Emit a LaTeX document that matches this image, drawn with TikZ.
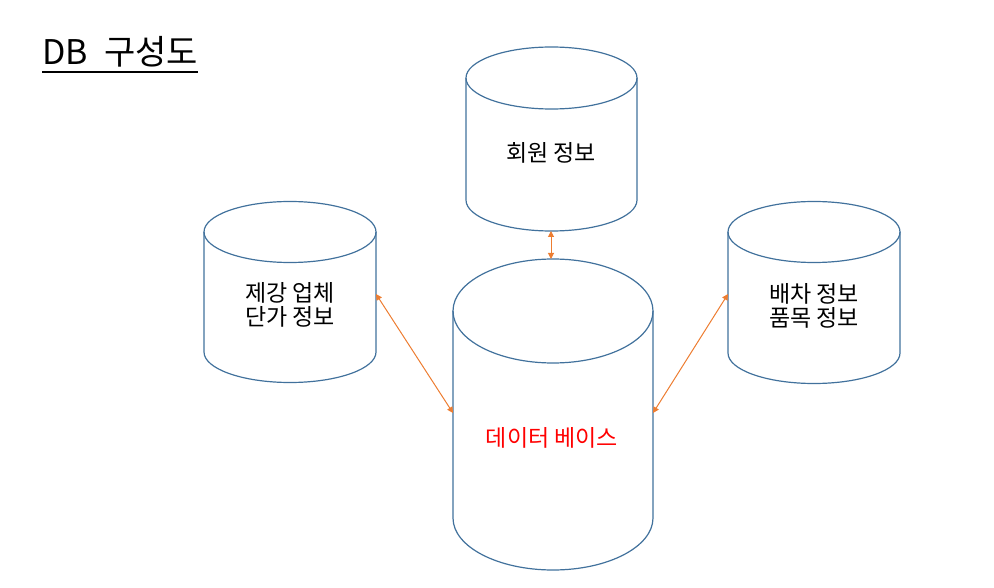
\documentclass[tikz,border=0pt]{standalone}
\usepackage{fontspec}
\setmainfont{Noto Sans CJK KR}
\usetikzlibrary{arrows.meta}
\definecolor{cylblue}{HTML}{41719C}
\definecolor{arrorange}{HTML}{ED7D31}
\definecolor{dbred}{HTML}{FF0000}
\tikzset{
  cylline/.style={draw=cylblue, line width=1.2pt},
  link/.style={draw=arrorange, line width=1pt, {Triangle[length=6pt,width=6pt]}-{Triangle[length=6pt,width=6pt]}},
  label/.style={font=\fontsize{23}{24.5}\selectfont, align=center, inner sep=0pt},
}
% \mycyl{left x}{right x}{top centre y}{bottom centre y}{y radius}
\newcommand{\mycyl}[5]{%
  \pgfmathsetmacro{\cx}{(#1+#2)/2}%
  \pgfmathsetmacro{\rx}{(#2-#1)/2}%
  \draw[cylline] (\cx,#3) ellipse [x radius=\rx pt, y radius=#5pt];
  \draw[cylline] (#1,#3) -- (#1,#4) arc[start angle=180, end angle=360, x radius=\rx pt, y radius=#5pt] -- (#2,#3);
}
\begin{document}
\begin{tikzpicture}[x=1pt,y=-1pt]
\useasboundingbox (0,0) rectangle (994,588);
% title
\node[anchor=base west, inner sep=0pt, font=\fontsize{34}{36}\selectfont] (title) at (42,65) {DB\hspace{0.25em} 구성도};
\draw[line width=1.5pt] (title.west |- 0,72) coordinate (ulA) -- (title.east |- 0,72) coordinate (ulB);

% cylinders
\mycyl{466}{637}{78}{200}{31}
\mycyl{204}{376}{232}{352}{30.5}
\mycyl{728}{900}{232}{353}{30.5}
\mycyl{453}{653}{311}{518}{52}

% labels
\node[label] (member) at (551,153) {회원 정보};
\node[label] (price) at (290,305) {제강 업체\\단가 정보};
\node[label] (dispatch) at (814,306) {배차 정보\\품목 정보};
\node[label, text=dbred] (db) at (552,438) {데이터 베이스};

% connector ends
\coordinate (memberB) at (551,231);
\coordinate (dbT) at (551,259);
\coordinate (priceR) at (376,294);
\coordinate (dbL) at (453,413);
\coordinate (dispatchL) at (728,294);
\coordinate (dbR) at (653,413);

\draw[link] (memberB) -- (dbT);
\draw[link] (priceR) -- (dbL);
\draw[link] (dispatchL) -- (dbR);
\end{tikzpicture}
\end{document}
